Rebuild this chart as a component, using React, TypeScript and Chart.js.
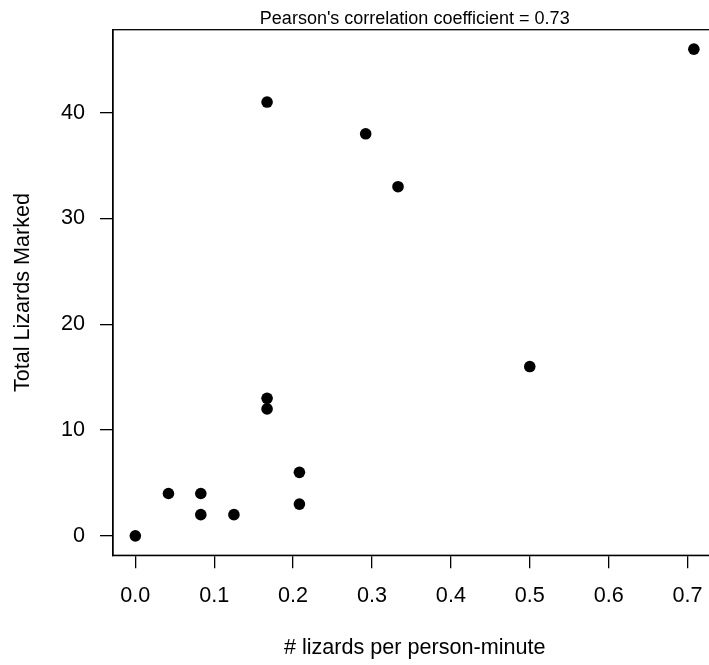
import React, { useEffect, useRef } from "react";
import { Chart, registerables } from "chart.js";

Chart.register(...registerables);

// Data
const ratePerPersonMinute = [0, 0.042, 0.083, 0.083, 0.125, 0.167, 0.167, 0.167, 0.208, 0.208, 0.292, 0.333, 0.5, 0.708];
const totalLizardsMarked = [0, 4, 4, 2, 2, 41, 13, 12, 6, 3, 38, 33, 16, 46];
const xTickValues = [0, 0.1, 0.2, 0.3, 0.4, 0.5, 0.6, 0.7];
const yTickValues = [0, 10, 20, 30, 40];
const xLimits = [-0.0283, 0.7367];
const yLimits = [-1.84, 47.84];
const chartTitle = "Pearson's correlation coefficient = 0.73";
const xAxisTitle = "# lizards per person-minute";
const yAxisTitle = "Total Lizards Marked";

const FONT = '"Liberation Sans", Arial, Helvetica, sans-serif';

const boxAndTitle = {
  id: "rBoxTitle",
  afterDraw(chart: any) {
    const { ctx, chartArea } = chart;
    ctx.save();
    ctx.strokeStyle = "#000";
    ctx.lineWidth = 1.3;
    ctx.strokeRect(chartArea.left, chartArea.top, chartArea.right - chartArea.left, chartArea.bottom - chartArea.top);
    ctx.fillStyle = "#000";
    ctx.font = `18px ${FONT}`;
    ctx.textAlign = "center";
    ctx.textBaseline = "alphabetic";
    ctx.fillText(chartTitle, (chartArea.left + chartArea.right) / 2, chartArea.top - 5.7);
    ctx.restore();
  },
};

export default function App() {
  const canvasRef = useRef<HTMLCanvasElement | null>(null);

  useEffect(() => {
    if (!canvasRef.current) return;
    const points = ratePerPersonMinute.map((x, i) => ({ x, y: totalLizardsMarked[i] }));
    const chart = new Chart(canvasRef.current, {
      type: "scatter",
      data: {
        datasets: [
          {
            data: points,
            backgroundColor: "#000",
            borderColor: "#000",
            borderWidth: 0,
            pointRadius: 5.8,
            pointHoverRadius: 5.8,
            pointStyle: "circle",
          },
        ],
      },
      options: {
        responsive: false,
        animation: false,
        devicePixelRatio: 1,
        layout: { padding: { left: 0, top: 29.7, right: 13.5, bottom: 0 } },
        plugins: {
          legend: { display: false },
          tooltip: { enabled: false },
          title: { display: false },
        },
        scales: {
          x: {
            type: "linear",
            min: xLimits[0],
            max: xLimits[1],
            afterBuildTicks: (scale: any) => {
              scale.ticks = xTickValues.map((v) => ({ value: v }));
            },
            afterFit: (scale: any) => {
              scale.height = 665 - 555.3;
            },
            ticks: {
              color: "#000",
              font: { family: FONT, size: 21.6 },
              padding: 14.7,
              maxRotation: 0,
              autoSkip: false,
              callback: (v: any) => Number(v).toFixed(1),
            },
            grid: {
              display: true,
              drawOnChartArea: false,
              drawTicks: true,
              tickLength: 13,
              color: "#000",
              lineWidth: 1.3,
            },
            border: { display: true, color: "#000", width: 1.3 },
            title: {
              display: true,
              text: xAxisTitle,
              color: "#000",
              font: { family: FONT, size: 21.6 },
              padding: { top: 0, bottom: 3.5 },
            },
          },
          y: {
            type: "linear",
            min: yLimits[0],
            max: yLimits[1],
            afterBuildTicks: (scale: any) => {
              scale.ticks = yTickValues.map((v) => ({ value: v }));
            },
            afterFit: (scale: any) => {
              scale.width = 113;
            },
            ticks: {
              color: "#000",
              font: { family: FONT, size: 21.6 },
              padding: 15,
              autoSkip: false,
              callback: (v: any) => String(v),
            },
            grid: {
              display: true,
              drawOnChartArea: false,
              drawTicks: true,
              tickLength: 13,
              color: "#000",
              lineWidth: 1.3,
            },
            border: { display: true, color: "#000", width: 1.3 },
            title: {
              display: true,
              text: yAxisTitle,
              color: "#000",
              font: { family: FONT, size: 21.6 },
              padding: { top: 10.5, bottom: 0 },
            },
          },
        },
      },
      plugins: [boxAndTitle],
    });
    return () => chart.destroy();
  }, []);

  return (
    <div
      style={{
        position: "absolute",
        left: 0,
        top: 0,
        width: 709,
        height: 665,
        overflow: "hidden",
        background: "#fff",
      }}
    >
      <canvas ref={canvasRef} width={730} height={665} style={{ display: "block" }} />
    </div>
  );
}
